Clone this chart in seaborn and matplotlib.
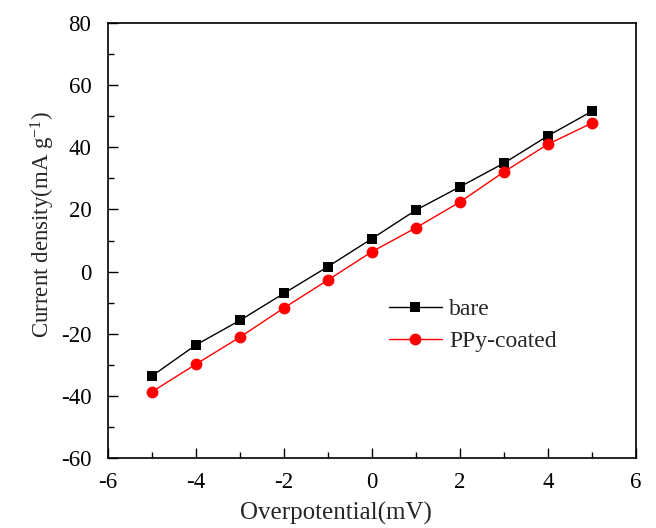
import matplotlib
matplotlib.use("Agg")
import matplotlib.pyplot as plt
import seaborn as sns
import pandas as pd
from matplotlib.ticker import MultipleLocator

overpotential = [-5, -4, -3, -2, -1, 0, 1, 2, 3, 4, 5]
bare = [-33.6, -23.6, -15.7, -7.0, 1.6, 10.6, 19.8, 27.3, 34.9, 43.7, 51.6]
ppy_coated = [-38.7, -29.8, -21.1, -11.7, -2.7, 6.4, 14.1, 22.4, 32.1, 41.0, 47.8]
series_names = ["bare", "PPy-coated"]

sns.set_theme(style="ticks")
plt.rcParams['font.family'] = ['Liberation Serif', 'DejaVu Serif']
plt.rcParams['mathtext.fontset'] = 'custom'
plt.rcParams['mathtext.rm'] = 'Liberation Serif'
plt.rcParams['mathtext.it'] = 'Liberation Serif:italic'
plt.rcParams['axes.unicode_minus'] = False

df_bare = pd.DataFrame({"x": overpotential, "y": bare})
df_ppy = pd.DataFrame({"x": overpotential, "y": ppy_coated})

fig = plt.figure(figsize=(6.56, 5.28), dpi=100)
ax = fig.add_axes([0.1646, 0.1326, 0.8049, 0.8238])

sns.lineplot(data=df_bare, x="x", y="y", color="black", marker="s",
             markersize=7.5, linewidth=1, markeredgewidth=0,
             label=series_names[0], ax=ax)
sns.lineplot(data=df_ppy, x="x", y="y", color="red", marker="o",
             markersize=8.5, linewidth=1, markeredgewidth=0,
             label=series_names[1], ax=ax)

ax.set_xlim(-6, 6)
ax.set_ylim(-60, 80)
ax.xaxis.set_major_locator(MultipleLocator(2))
ax.xaxis.set_minor_locator(MultipleLocator(1))
ax.yaxis.set_major_locator(MultipleLocator(20))
ax.yaxis.set_minor_locator(MultipleLocator(10))
ax.tick_params(which='both', direction='in', top=False, right=False,
               labelsize=16.5, width=1, colors='black')
ax.tick_params(which='major', length=7)
ax.tick_params(which='minor', length=4)
ax.tick_params(axis='x', which='both', pad=10)
ax.tick_params(axis='y', which='both', pad=12)
for s in ax.spines.values():
    s.set_linewidth(1.2)
    s.set_color('black')

ax.set_xlabel("Overpotential(mV)", fontsize=18)
ax.set_ylabel("Current density(mA g$^{-1}$)", fontsize=16.5)
ax.xaxis.set_label_coords(0.432, -0.102)
ax.yaxis.set_label_coords(-0.097, 0.538)

leg = ax.legend(loc='center left', bbox_to_anchor=(0.532, 0.305), frameon=False,
                fontsize=17, handlelength=2.25, handletextpad=0.3, labelspacing=0.45,
                borderaxespad=0, borderpad=0)

fig.savefig("out.png", dpi=100)
